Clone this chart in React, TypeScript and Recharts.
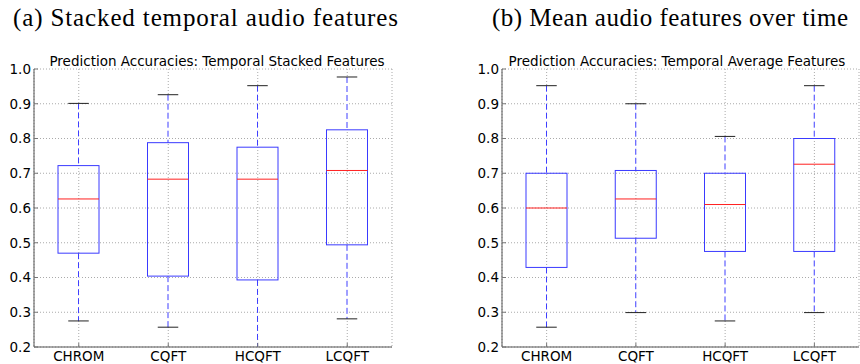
import React from 'react';
import { ComposedChart, Bar, XAxis, YAxis, CartesianGrid } from 'recharts';

const categories = ['CHROM', 'CQFT', 'HCQFT', 'LCQFT'];

// (a) Stacked temporal audio features
const stackedMin = [0.275, 0.257, 0.15, 0.281];
const stackedQ1 = [0.47, 0.404, 0.393, 0.494];
const stackedMedian = [0.626, 0.683, 0.683, 0.708];
const stackedQ3 = [0.722, 0.788, 0.775, 0.825];
const stackedMax = [0.901, 0.926, 0.952, 0.977];

// (b) Mean audio features over time
const meanMin = [0.257, 0.299, 0.275, 0.299];
const meanQ1 = [0.429, 0.513, 0.475, 0.475];
const meanMedian = [0.6, 0.626, 0.61, 0.726];
const meanQ3 = [0.7, 0.708, 0.7, 0.8];
const meanMax = [0.952, 0.9, 0.806, 0.952];

const yTicks = [0.2, 0.3, 0.4, 0.5, 0.6, 0.7, 0.8, 0.9, 1.0];

const buildRows = (mn: number[], q1: number[], md: number[], q3: number[], mx: number[]) =>
  categories.map((name, i) => ({
    name,
    lower: [mn[i], q1[i]],
    upper: [q3[i], mx[i]],
    box: [q1[i], q3[i]],
    med: [q1[i], md[i]],
  }));

const BLUE_BOX = '#3a3aff';
const BLUE_WHISKER = '#3f3fff';

const span = (p: any) => {
  const top = Math.min(p.y, p.y + p.height);
  const bottom = Math.max(p.y, p.y + p.height);
  const bg = p.background;
  let clipTop = -Infinity;
  let clipBottom = Infinity;
  if (bg && typeof bg.y === 'number') {
    clipTop = bg.y;
    clipBottom = bg.y + bg.height;
  }
  return { top, bottom, cx: p.x + p.width / 2, w: p.width, clipTop, clipBottom };
};

const Whisker = ({ cx, y1, y2 }: { cx: number; y1: number; y2: number }) => (
  <g>
    <line x1={cx} x2={cx} y1={y1} y2={y2} stroke="#fff" strokeWidth={2} />
    <line x1={cx} x2={cx} y1={y1} y2={y2} stroke={BLUE_WHISKER} strokeDasharray="6 3" strokeWidth={1} />
  </g>
);

const UpperWhisker = (p: any) => {
  const { top, bottom, cx, w, clipTop } = span(p);
  const t = Math.max(top, clipTop);
  return (
    <g>
      <Whisker cx={cx} y1={t} y2={bottom} />
      {top >= clipTop && (
        <line x1={cx - w / 4} x2={cx + w / 4} y1={top} y2={top} stroke="#222" strokeWidth={1} />
      )}
    </g>
  );
};

const LowerWhisker = (p: any) => {
  const { top, bottom, cx, w, clipBottom } = span(p);
  const b = Math.min(bottom, clipBottom);
  return (
    <g>
      <Whisker cx={cx} y1={top} y2={b} />
      {bottom <= clipBottom && (
        <line x1={cx - w / 4} x2={cx + w / 4} y1={bottom} y2={bottom} stroke="#222" strokeWidth={1} />
      )}
    </g>
  );
};

const BoxShape = (p: any) => {
  const { top, bottom } = span(p);
  return <rect x={p.x} y={top} width={p.width} height={bottom - top} fill="none" stroke={BLUE_BOX} strokeWidth={1} />;
};

const MedianShape = (p: any) => {
  const { top } = span(p);
  return <line x1={p.x} x2={p.x + p.width} y1={top} y2={top} stroke="#ff2020" strokeWidth={1} />;
};

const tickFont = { fontFamily: 'DejaVu Sans', fontSize: 13.5, fill: '#000' };
const frame = '#555';

const BoxChart = ({ rows, width, right }: { rows: any[]; width: number; right: number }) => (
  <ComposedChart
    width={width}
    height={364}
    data={rows}
    margin={{ top: 69, right, bottom: 0, left: 0 }}
    barGap={-41}
    barSize={41}
  >
    <CartesianGrid stroke="#aaa" strokeDasharray="1 2" />
    <XAxis
      dataKey="name"
      height={17}
      tick={tickFont}
      tickSize={-4}
      tickMargin={8}
      stroke={frame}
      tickLine={{ stroke: '#777' }}
      interval={0}
    />
    <XAxis
      xAxisId="top"
      dataKey="name"
      orientation="top"
      height={0}
      tick={false}
      tickSize={-4}
      stroke={frame}
      tickLine={{ stroke: '#777' }}
      interval={0}
    />
    <YAxis
      width={34}
      domain={[0.2, 1.0]}
      ticks={yTicks}
      allowDataOverflow
      tick={tickFont}
      tickSize={-4}
      tickMargin={7}
      stroke={frame}
      tickLine={{ stroke: '#777' }}
      tickFormatter={(v: number) => v.toFixed(1)}
      interval={0}
    />
    <YAxis
      yAxisId="right"
      orientation="right"
      width={0}
      domain={[0.2, 1.0]}
      ticks={yTicks}
      allowDataOverflow
      tick={false}
      tickSize={-4}
      stroke={frame}
      tickLine={{ stroke: '#777' }}
      interval={0}
    />
    <Bar dataKey="lower" shape={LowerWhisker} isAnimationActive={false} />
    <Bar dataKey="upper" shape={UpperWhisker} isAnimationActive={false} />
    <Bar dataKey="box" shape={BoxShape} isAnimationActive={false} />
    <Bar dataKey="med" shape={MedianShape} isAnimationActive={false} />
  </ComposedChart>
);

export default function App() {
  const stackedRows = buildRows(stackedMin, stackedQ1, stackedMedian, stackedQ3, stackedMax);
  const meanRows = buildRows(meanMin, meanQ1, meanMedian, meanQ3, meanMax);
  return (
    <div style={{ position: 'absolute', left: 0, top: 0, width: 860, height: 364, background: '#fff', overflow: 'hidden' }}>
      <div style={{ position: 'absolute', left: 0, top: 0 }}>
        <BoxChart rows={stackedRows} width={430} right={38} />
      </div>
      <div style={{ position: 'absolute', left: 468, top: 0 }}>
        <BoxChart rows={meanRows} width={392} right={1} />
      </div>
      <svg width={860} height={364} style={{ position: 'absolute', left: 0, top: 0, pointerEvents: 'none' }}>
        <text x={205.5} y={26} textAnchor="middle" fontFamily="Liberation Serif" fontSize={25} textLength={385} lengthAdjust="spacing" fill="#000">
          (a) Stacked temporal audio features
        </text>
        <text x={670} y={26} textAnchor="middle" fontFamily="Liberation Serif" fontSize={25} textLength={356} lengthAdjust="spacing" fill="#000">
          (b) Mean audio features over time
        </text>
        <text x={217} y={66} textAnchor="middle" fontFamily="DejaVu Sans" fontSize={13.5} fill="#000">
          Prediction Accuracies: Temporal Stacked Features
        </text>
        <text x={677} y={66} textAnchor="middle" fontFamily="DejaVu Sans" fontSize={13.5} fill="#000">
          Prediction Accuracies: Temporal Average Features
        </text>
      </svg>
    </div>
  );
}
